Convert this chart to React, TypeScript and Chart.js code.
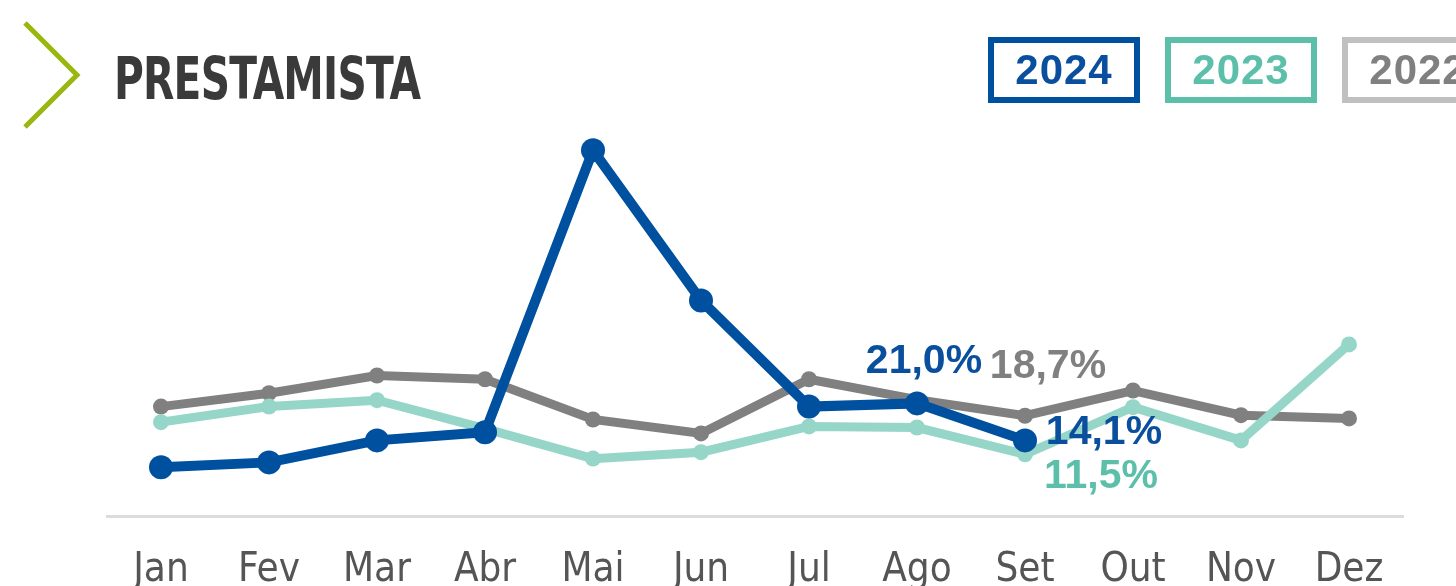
import React, { useEffect, useRef } from "react";
import { Chart, registerables } from "chart.js";

Chart.register(...registerables);

const months = ["Jan", "Fev", "Mar", "Abr", "Mai", "Jun", "Jul", "Ago", "Set", "Out", "Nov", "Dez"];
const values2024: (number | null)[] = [9.1, 10.0, 14.1, 15.6, 68.2, 40.2, 20.4, 21.0, 14.1, null, null, null];
const values2023 = [17.5, 20.4, 21.6, 16.3, 10.7, 11.9, 16.7, 16.5, 11.5, 20.3, 14.1, 32.0];
const values2022 = [20.4, 22.9, 26.2, 25.5, 18.0, 15.4, 25.5, 21.7, 18.7, 23.4, 18.8, 18.2];
const legendYears = ["2024", "2023", "2022"];
const titleText = "PRESTAMISTA";

const BLUE = "#0050a0";
const BLUE_TXT = "#0a4f9e";
const TEAL_LINE = "#96d6c8";
const TEAL_TXT = "#5bbfaa";
const GRAY_LINE = "#808080";
const GRAY_BOX = "#c0c0c0";

// labels: dataset index, point index, offset, colour
const pointLabels = [
  { ds: 2, idx: 7, dx: 7, dy: -42, color: BLUE_TXT },
  { ds: 0, idx: 8, dx: 23, dy: -49, color: GRAY_LINE },
  { ds: 2, idx: 8, dx: 79, dy: -8, color: BLUE_TXT },
  { ds: 1, idx: 8, dx: 76, dy: 22, color: TEAL_TXT },
];

const labelPlugin = {
  id: "pointLabels",
  afterDatasetsDraw(chart: any) {
    const ctx = chart.ctx;
    ctx.save();
    ctx.font = "bold 41px 'Liberation Sans', Arial, sans-serif";
    ctx.textAlign = "center";
    ctx.textBaseline = "middle";
    for (const l of pointLabels) {
      const meta = chart.getDatasetMeta(l.ds);
      const pt = meta.data[l.idx];
      const v = chart.data.datasets[l.ds].data[l.idx];
      if (!pt || v == null) continue;
      const txt = Number(v).toFixed(1).replace(".", ",") + "%";
      ctx.fillStyle = l.color;
      ctx.fillText(txt, pt.x + l.dx, pt.y + l.dy);
    }
    ctx.restore();
  },
};

export default function App() {
  const ref = useRef<HTMLCanvasElement>(null);
  useEffect(() => {
    if (!ref.current) return;
    const chart = new Chart(ref.current, {
      type: "line",
      data: {
        labels: months,
        datasets: [
          {
            label: "2022",
            data: values2022,
            borderColor: GRAY_LINE,
            backgroundColor: GRAY_LINE,
            borderWidth: 9,
            pointRadius: 8,
            pointHoverRadius: 8,
            pointBorderWidth: 0,
            order: 3,
          },
          {
            label: "2023",
            data: values2023,
            borderColor: TEAL_LINE,
            backgroundColor: TEAL_LINE,
            borderWidth: 9,
            pointRadius: 8,
            pointHoverRadius: 8,
            pointBorderWidth: 0,
            order: 2,
          },
          {
            label: "2024",
            data: values2024,
            borderColor: BLUE,
            backgroundColor: BLUE,
            borderWidth: 10,
            pointRadius: 12,
            pointHoverRadius: 12,
            pointBorderWidth: 0,
            order: 1,
          },
        ],
      },
      options: {
        animation: false,
        responsive: false,
        maintainAspectRatio: false,
        events: [],
        clip: false as any,
        layout: { padding: { left: 107, right: 53, top: 87, bottom: 24 } },
        plugins: { legend: { display: false }, tooltip: { enabled: false } },
        scales: {
          x: {
            offset: true,
            grid: { display: false, drawTicks: false },
            border: { display: true, color: "#dcdcdc", width: 3 },
            ticks: {
              color: "#555555",
              padding: 31,
              font: { family: "'Liberation Sans Narrow', 'DejaVu Sans Condensed', sans-serif", size: 40 },
              maxRotation: 0,
              autoSkip: false,
            },
          },
          y: {
            display: false,
            min: 0,
            max: 80,
          },
        },
      },
      plugins: [labelPlugin],
    });
    return () => chart.destroy();
  }, []);

  const boxes = [
    { left: 988, border: BLUE, text: BLUE_TXT },
    { left: 1165, border: "#5bbfaa", text: TEAL_TXT },
    { left: 1342, border: GRAY_BOX, text: "#808080" },
  ];

  return (
    <div style={{ position: "fixed", left: 0, top: 0, width: 1456, height: 586, overflow: "hidden", background: "#fff" }}>
      <canvas ref={ref} width={1456} height={650} style={{ position: "absolute", left: 0, top: 0, width: 1456, height: 650 }} />
      <svg width={100} height={140} style={{ position: "absolute", left: 0, top: 0 }}>
        <polyline points="25,23 77,75 25,127" fill="none" stroke="#99b80f" strokeWidth={5} />
      </svg>
      <div
        style={{
          position: "absolute",
          left: 114,
          top: 44,
          fontFamily: "'DejaVu Sans Condensed', sans-serif",
          fontWeight: "bold",
          fontSize: 58,
          lineHeight: "70px",
          color: "#3a3a3a",
          whiteSpace: "nowrap",
          transformOrigin: "left top",
          transform: "scaleX(0.78)",
          letterSpacing: -1,
        }}
      >
        {titleText}
      </div>
      {legendYears.map((y, i) => (
        <div
          key={y}
          style={{
            position: "absolute",
            left: boxes[i].left,
            top: 37,
            width: 152,
            height: 66,
            boxSizing: "border-box",
            border: `6px solid ${boxes[i].border}`,
            color: boxes[i].text,
            fontFamily: "'Liberation Sans', Arial, sans-serif",
            fontWeight: "bold",
            fontSize: 42,
            letterSpacing: 1,
            lineHeight: "54px",
            textAlign: "center",
          }}
        >
          {y}
        </div>
      ))}
    </div>
  );
}
